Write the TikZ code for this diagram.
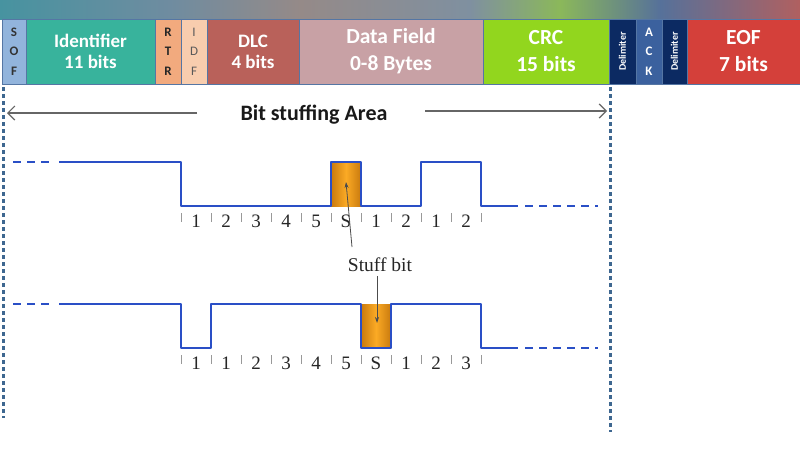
\documentclass[tikz,border=0pt]{standalone}
\usepackage{fontspec}
\setmainfont{Liberation Serif}
\newfontfamily\hdr{Carlito}
\usetikzlibrary{arrows.meta}
\definecolor{sofc}{HTML}{92B4DC}
\definecolor{idc}{HTML}{38B39C}
\definecolor{rtrc}{HTML}{F2AA7E}
\definecolor{idfc}{HTML}{F8CDAE}
\definecolor{dlcc}{HTML}{B9615A}
\definecolor{datac}{HTML}{C8A1A5}
\definecolor{crcc}{HTML}{92D61E}
\definecolor{delc}{HTML}{0C2A62}
\definecolor{ackc}{HTML}{3B619E}
\definecolor{eofc}{HTML}{D4403A}
\definecolor{edgec}{HTML}{5576A4}
\definecolor{wblue}{HTML}{2A4FC6}
\definecolor{dotc}{HTML}{3E6790}
\definecolor{odark}{HTML}{C97A0E}
\definecolor{olight}{HTML}{FBAA25}
\definecolor{bandA}{HTML}{4793A0}
\definecolor{bandB}{HTML}{6F8CA0}
\definecolor{bandC}{HTML}{958A88}
\definecolor{bandD}{HTML}{7F90A0}
\definecolor{bandE}{HTML}{8BB85A}
\definecolor{bandF}{HTML}{56719A}
\definecolor{bandG}{HTML}{B06060}
\tikzset{
  fld/.style={draw=edgec, line width=0.6pt, minimum height=65pt, inner sep=0pt, align=center, text=white},
  big/.style={font=\hdr\bfseries\fontsize{19}{21}\selectfont},
  bigger/.style={font=\hdr\bfseries\fontsize{21.5}{27}\selectfont},
  letters/.style={font=\hdr\bfseries\fontsize{13}{19.5}\selectfont},
  wave/.style={draw=wblue, line width=2.4pt, line join=round},
  wdash/.style={wave, dash pattern=on 8pt off 6pt},
  tick/.style={draw=gray!80, line width=0.8pt},
  bitlbl/.style={font=\fontsize{19}{19}\selectfont, text=black!85, inner sep=0pt},
  dotline/.style={draw=dotc, line width=3pt, dash pattern=on 3.5pt off 3.5pt},
  bsarrow/.style={draw=black!60, line width=1.2pt, -{Straight Barb[length=7pt,width=14pt,line width=1.2pt]}},
  ptr/.style={draw=black!70, line width=0.8pt, -{Stealth[length=6pt,width=4pt]}}
}
\begin{document}
\begin{tikzpicture}[x=1pt,y=-1pt]
\useasboundingbox (0,0) rectangle (800,450);
\fill[white] (0,0) rectangle (800,450);
% top blurred band
\shade[left color=bandA, right color=bandB] (0,0) rectangle (170,19);
\shade[left color=bandB, right color=bandC] (170,0) rectangle (300,19);
\shade[left color=bandC, right color=bandD] (300,0) rectangle (470,19);
\shade[left color=bandD, right color=bandE] (470,0) rectangle (560,19);
\shade[left color=bandE, right color=bandF] (560,0) rectangle (660,19);
\shade[left color=bandF, right color=bandG] (660,0) rectangle (800,19);
% header fields
\node[fld, fill=sofc, minimum width=24pt, letters, text=black!80] (sof) at (14,51.5) {S\\O\\F};
\node[fld, fill=idc, minimum width=129pt, big] (id) at (90.5,51.5) {Identifier\\11 bits};
\node[fld, fill=rtrc, minimum width=26pt, letters, text=black!85] (rtr) at (168,51.5) {R\\T\\R};
\node[fld, fill=idfc, minimum width=26pt, font=\hdr\fontsize{13}{19.5}\selectfont, text=black!65] (idf) at (194,51.5) {I\\D\\F};
\node[fld, fill=dlcc, minimum width=92pt, big] (dlc) at (253,51.5) {DLC\\4 bits};
\node[fld, fill=datac, minimum width=184pt, bigger] (data) at (391,51.5) {Data Field\\0-8 Bytes};
\node[fld, fill=crcc, minimum width=126pt, bigger] (crc) at (546,51.5) {CRC\\15 bits};
\node[fld, fill=delc, minimum width=27pt] (del1) at (622.5,51.5) {};
\node[fld, fill=ackc, minimum width=26pt, letters] (ack) at (649,51.5) {A\\C\\K};
\node[fld, fill=delc, minimum width=25pt] (del2) at (674.5,51.5) {};
\node[fld, fill=eofc, minimum width=113pt, bigger] (eof) at (743.5,51.5) {EOF\\7 bits};
\node[rotate=90, text=white, font=\hdr\bfseries\fontsize{10}{10}\selectfont] (del1t) at (del1.center) {Delimiter};
\node[rotate=90, text=white, font=\hdr\bfseries\fontsize{10}{10}\selectfont] (del2t) at (del2.center) {Delimiter};
% dotted bounds
\draw[dotline] (3,87) -- (3,418);
\draw[dotline] (610,87) -- (610,432);
% bit stuffing area
\node[font=\hdr\bfseries\fontsize{22}{22}\selectfont, text=black!90] (bsa) at (314,115) {Bit stuffing Area};
\coordinate (la) at (197,113);
\coordinate (lb) at (7,113);
\coordinate (ra) at (425,111);
\coordinate (rb) at (607,111);
\draw[bsarrow] (la) -- (lb);
\draw[bsarrow] (ra) -- (rb);
% waveform 1
\shade[left color=odark, right color=odark, middle color=olight] (331,162) rectangle (361,206);
\draw[wdash] (13,162) -- (54,162);
\draw[wave] (59,162) -- (181,162) -- (181,206) -- (331,206) -- (331,162) -- (361,162) -- (361,206) -- (421,206) -- (421,162) -- (481,162) -- (481,206) -- (518,206);
\draw[wdash] (525,206) -- (598,206);
\foreach \i in {0,...,10} \draw[tick] ({181+30*\i},213) -- ++(0,9);
\foreach \t [count=\k from 0] in {1,2,3,4,5,S,1,2,1,2}
  \node[bitlbl] (ta\k) at ({196+30*\k},221) {\t};
% waveform 2
\shade[left color=odark, right color=odark, middle color=olight] (361,304) rectangle (391,348);
\draw[wdash] (13,304) -- (54,304);
\draw[wave] (59,304) -- (181,304) -- (181,348) -- (211,348) -- (211,304) -- (361,304) -- (361,348) -- (391,348) -- (391,304) -- (481,304) -- (481,348) -- (518,348);
\draw[wdash] (525,348) -- (598,348);
\foreach \i in {0,...,10} \draw[tick] ({181+30*\i},355) -- ++(0,9);
\foreach \t [count=\k from 0] in {1,1,2,3,4,5,S,1,2,3}
  \node[bitlbl] (tb\k) at ({196+30*\k},363) {\t};
% stuff bit label
\node[font=\fontsize{19.5}{19.5}\selectfont, text=black!85, inner sep=1pt] (stuff) at (380,265) {Stuff bit};
\coordinate (s1) at (352,247);
\coordinate (s1e) at (346,182);
\coordinate (s2) at (377,276);
\coordinate (s2e) at (377,323);
\draw[ptr] (s1) -- (s1e);
\draw[ptr] (s2) -- (s2e);
\end{tikzpicture}
\end{document}
